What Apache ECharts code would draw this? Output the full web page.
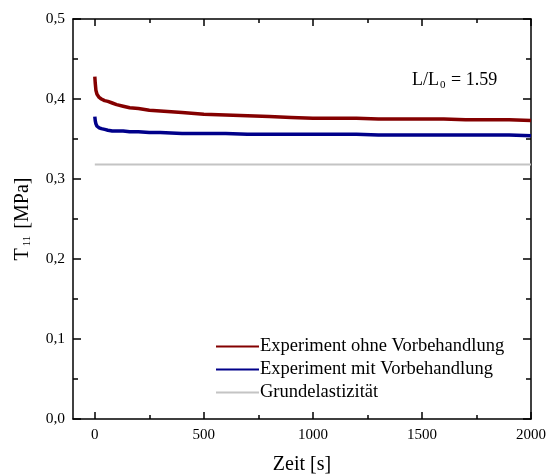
<!DOCTYPE html>
<html>
<head>
<meta charset="utf-8">
<script src="https://cdn.jsdelivr.net/npm/echarts@6/dist/echarts.min.js"></script>
<style>html,body{margin:0;padding:0;background:#fff}#c{width:548px;height:474px}</style>
</head>
<body>
<div id="c"></div>
<script>
var xTicks = [0, 500, 1000, 1500, 2000];
var xMinorTicks = [250, 750, 1250, 1750];
var timeRed = [0, 2, 5, 10, 15, 20, 30, 45, 60, 80, 100, 130, 160, 200, 250, 300, 400, 500, 600, 700, 800, 900, 1000, 1100, 1200, 1300, 1400, 1500, 1600, 1700, 1800, 1900, 2000];
var valRed = [0.428, 0.420, 0.411, 0.406, 0.404, 0.402, 0.400, 0.398, 0.397, 0.395, 0.393, 0.391, 0.389, 0.388, 0.386, 0.385, 0.383, 0.381, 0.380, 0.379, 0.378, 0.377, 0.376, 0.376, 0.376, 0.375, 0.375, 0.375, 0.375, 0.374, 0.374, 0.374, 0.373];
var timeBlue = [0, 2, 5, 10, 15, 20, 30, 45, 60, 80, 100, 130, 160, 200, 250, 300, 400, 500, 600, 700, 800, 900, 1000, 1100, 1200, 1300, 1400, 1500, 1600, 1700, 1800, 1870, 1900, 2000];
var valBlue = [0.378, 0.373, 0.369, 0.366, 0.365, 0.364, 0.363, 0.362, 0.361, 0.360, 0.360, 0.360, 0.359, 0.359, 0.358, 0.358, 0.357, 0.357, 0.357, 0.356, 0.356, 0.356, 0.356, 0.356, 0.356, 0.355, 0.355, 0.355, 0.355, 0.355, 0.355, 0.355, 0.355, 0.354];
var timeGrund = [0, 2000];
var valGrund = [0.318, 0.318];
var seriesNames = ['Experiment ohne Vorbehandlung', 'Experiment mit Vorbehandlung', 'Grundelastizität'];

function pairs(t, v) { return t.map(function (x, i) { return [x, v[i]]; }); }

var FONT = 'Liberation Serif';
var chart = echarts.init(document.getElementById('c'));
var baseX = { type: 'value', min: -100, max: 2000, splitLine: { show: false } };
var baseY = { type: 'value', min: 0, max: 0.5, interval: 0.1, splitLine: { show: false } };
function xAx(extra) { return Object.assign({}, baseX, extra); }
function yAx(extra) { return Object.assign({}, baseY, extra); }
var lineStyle = { color: '#000', width: 1.5 };

chart.setOption({
  animation: false,
  backgroundColor: '#fff',
  grid: { left: 73, right: 17, top: 19, bottom: 55, containLabel: false, outerBoundsMode: 'none' },
  legend: {
    orient: 'vertical', left: 211, top: 332, itemGap: 4,
    itemWidth: 43, itemHeight: 2, icon: 'rect',
    textStyle: { fontFamily: FONT, fontSize: 18.5, color: '#000', padding: [0, 0, 0, -4] },
    data: seriesNames
  },
  xAxis: [
    xAx({ position: 'bottom', axisLine: { onZero: false, lineStyle: lineStyle },
      axisTick: { inside: true, length: 7, customValues: xTicks, lineStyle: lineStyle },
      axisLabel: { customValues: xTicks, fontFamily: FONT, fontSize: 15, color: '#000', margin: 9,
        formatter: function (v) { return String(v); } },
      name: 'Zeit [s]', nameLocation: 'middle', nameGap: 36,
      nameTextStyle: { fontFamily: FONT, fontSize: 20, color: '#000' } }),
    xAx({ position: 'bottom', axisLine: { show: false, onZero: false },
      axisTick: { inside: true, length: 4, customValues: xMinorTicks, lineStyle: lineStyle },
      axisLabel: { show: false } }),
    xAx({ position: 'top', axisLine: { onZero: false, lineStyle: lineStyle },
      axisTick: { inside: true, length: 7, customValues: xTicks, lineStyle: lineStyle },
      axisLabel: { show: false } }),
    xAx({ position: 'top', axisLine: { show: false, onZero: false },
      axisTick: { inside: true, length: 4, customValues: xMinorTicks, lineStyle: lineStyle },
      axisLabel: { show: false } })
  ],
  yAxis: [
    yAx({ position: 'left', axisLine: { onZero: false, lineStyle: lineStyle },
      axisTick: { inside: true, length: 8, lineStyle: lineStyle },
      minorTick: { show: true, splitNumber: 2, length: 5, lineStyle: lineStyle },
      axisLabel: { fontFamily: FONT, fontSize: 15.5, color: '#000', margin: 8,
        formatter: function (v) { return v.toFixed(1).replace('.', ','); } },
      name: '{a|T}{s|11}{a| [MPa]}', nameLocation: 'middle', nameGap: 40, nameRotate: 90,
      nameTextStyle: { fontFamily: FONT, fontSize: 20, color: '#000',
        rich: { a: { fontFamily: FONT, fontSize: 20, color: '#000' },
                s: { fontFamily: FONT, fontSize: 11, color: '#000', padding: [10, 2, 0, 2] } } } }),
    yAx({ position: 'right', axisLine: { onZero: false, lineStyle: lineStyle },
      axisTick: { inside: true, length: 8, lineStyle: lineStyle },
      minorTick: { show: true, splitNumber: 2, length: 5, lineStyle: lineStyle },
      axisLabel: { show: false } })
  ],
  graphic: [{
    type: 'text', left: 412, top: 71,
    style: { text: '{a|L/L}{s|0}{a| = 1.59}', fontFamily: FONT,
      rich: { a: { fontFamily: FONT, fontSize: 18, fill: '#000' },
              s: { fontFamily: FONT, fontSize: 11, fill: '#000', padding: [10, 1, 0, 1] } } }
  }],
  series: [
    { name: seriesNames[0], type: 'line', data: pairs(timeRed, valRed), showSymbol: false,
      color: '#840000', lineStyle: { width: 3.5, color: '#840000' }, z: 3 },
    { name: seriesNames[1], type: 'line', data: pairs(timeBlue, valBlue), showSymbol: false,
      color: '#00008a', lineStyle: { width: 3.5, color: '#00008a' }, z: 3 },
    { name: seriesNames[2], type: 'line', data: pairs(timeGrund, valGrund), showSymbol: false,
      color: '#c4c4c4', lineStyle: { width: 2, color: '#c4c4c4' }, z: 2 }
  ]
});
</script>
</body>
</html>
